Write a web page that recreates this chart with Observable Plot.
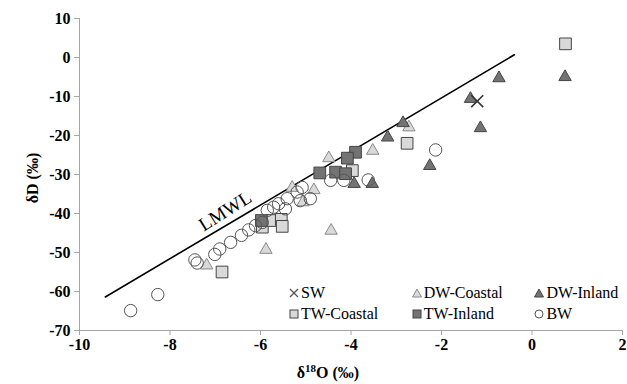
<!DOCTYPE html>
<html><head><meta charset="utf-8">
<script src="https://cdn.jsdelivr.net/npm/d3@7"></script>
<script src="https://cdn.jsdelivr.net/npm/@observablehq/plot@0.6"></script>
<style>
body{margin:0;background:#fff}
#wrap{position:relative;width:627px;height:384px;overflow:hidden}
.leg{position:absolute;display:flex;align-items:center;font-family:'Liberation Serif','Times New Roman',serif;font-size:16px;color:#000;white-space:nowrap;line-height:1}
.leg svg{margin-right:2px}
</style>
</head><body><div id="wrap"></div>
<script>
// ---- data ----
const xTicks = [-10, -8, -6, -4, -2, 0, 2];
const yTicks = [-70, -60, -50, -40, -30, -20, -10, 0, 10];

const swX = [-1.21];
const swY = [-11.2];

const dwcX = [-7.19, -5.88, -4.44, -5.30, -4.82, -5.06, -4.49, -3.52, -2.72];
const dwcY = [-53.3, -49.3, -44.4, -33.4, -34.0, -37.1, -25.8, -23.9, -17.9];

const dwiX = [0.73, -0.73, -1.36, -1.14, -2.85, -3.19, -2.26, -3.93, -3.53];
const dwiY = [-5.0, -5.3, -10.6, -18.1, -16.8, -20.5, -27.8, -32.4, -32.4];

const twcX = [0.74, -2.76, -6.85, -5.96, -5.74, -5.54, -5.52, -3.97];
const twcY = [3.5, -22.0, -55.0, -43.5, -41.8, -41.5, -43.3, -29.0];

const twiX = [-5.98, -4.69, -4.34, -4.12, -3.90, -4.08];
const twiY = [-41.8, -29.6, -29.4, -29.8, -24.3, -25.8];

const bwX = [-8.87, -8.27, -7.45, -7.40, -7.01, -6.90, -6.66, -6.42, -6.26, -6.11, -5.96, -5.85, -5.71, -5.60, -5.45, -5.41, -5.19, -5.08, -5.12, -4.90, -4.45, -4.16, -3.62, -2.13];
const bwY = [-64.9, -60.8, -51.9, -52.7, -50.5, -49.1, -47.4, -45.6, -44.2, -43.1, -42.3, -39.2, -38.4, -37.5, -38.8, -36.2, -34.5, -33.3, -36.7, -36.2, -31.5, -31.5, -31.4, -23.7];

const lmwlX = [-9.43, -0.39];
const lmwlY = [-61.4, 0.7];
const lmwlLabel = ["LMWL"];
const lmwlLabelX = [-6.78];
const lmwlLabelY = [-39.4];

const seriesNames = ["SW", "DW-Coastal", "DW-Inland", "TW-Coastal", "TW-Inland", "BW"];

// ---- build tables ----
const pts = (xs, ys) => xs.map((x, i) => ({x, y: ys[i]}));
const sw = pts(swX, swY), dwc = pts(dwcX, dwcY), dwi = pts(dwiX, dwiY),
      twc = pts(twcX, twcY), twi = pts(twiX, twiY), bw = pts(bwX, bwY);
const lmwl = pts(lmwlX, lmwlY);
const lab = lmwlLabel.map((t, i) => ({t, x: lmwlLabelX[i], y: lmwlLabelY[i]}));

const LIGHT = "#d9d9d9", LIGHT_S = "#8a8a8a", DARK = "#737373", DARK_S = "#454545";
const AXIS = "#a6a6a6";
const serif = "'Liberation Serif','Times New Roman',serif";

const chart = Plot.plot({
  width: 627, height: 384,
  marginLeft: 79, marginRight: 5, marginTop: 18, marginBottom: 54,
  x: {domain: [-10, 2]},
  y: {domain: [-70, 10]},
  style: {fontFamily: serif, fontSize: "16px", fontWeight: "bold", background: "white", color: "black", overflow: "visible"},
  marks: [
    Plot.ruleY([-70], {stroke: AXIS}),
    Plot.ruleX([-10], {stroke: AXIS}),
    Plot.axisX({ticks: xTicks, tickSize: 5, tickPadding: 3, tickFormat: d => String(d), label: null}),
    Plot.axisY({ticks: yTicks, tickSize: 5, tickPadding: 4, tickFormat: d => String(d), label: null}),
    Plot.line(lmwl, {x: "x", y: "y", stroke: "black", strokeWidth: 1.6}),
    Plot.text(lab, {x: "x", y: "y", text: "t", rotate: -32, fontSize: 19, fontWeight: "normal", fill: "black"}),
    Plot.dot(dwc, {x: "x", y: "y", symbol: "triangle", r: 4.6, fill: LIGHT, stroke: LIGHT_S, strokeWidth: 1}),
    Plot.dot(dwi, {x: "x", y: "y", symbol: "triangle", r: 4.6, fill: DARK, stroke: DARK_S, strokeWidth: 1}),
    Plot.dot(twc, {x: "x", y: "y", symbol: "square", r: 6.6, fill: LIGHT, stroke: DARK_S, strokeWidth: 1}),
    Plot.dot(twi, {x: "x", y: "y", symbol: "square", r: 6.6, fill: DARK, stroke: DARK_S, strokeWidth: 1}),
    Plot.dot(bw, {x: "x", y: "y", symbol: "circle", r: 6.2, fill: "none", stroke: "#555", strokeWidth: 1}),
    Plot.dot(sw, {x: "x", y: "y", symbol: "times", r: 5.5, stroke: "#333", strokeWidth: 1.6})
  ]
});

const svg = d3.select(chart);
svg.selectAll('g[aria-label$="axis tick"]').attr("stroke", AXIS);

// axis titles
svg.append("text")
  .attr("transform", "translate(32,178) rotate(-90)")
  .attr("text-anchor", "middle").attr("dy", "0.35em")
  .attr("font-family", serif).attr("font-size", 16).attr("font-weight", "bold")
  .text("δD (‰)");
const xt = svg.append("text")
  .attr("x", 328).attr("y", 378)
  .attr("text-anchor", "middle")
  .attr("font-family", serif).attr("font-size", 16).attr("font-weight", "bold");
xt.append("tspan").text("δ");
xt.append("tspan").attr("font-size", 11).attr("dy", -6).text("18");
xt.append("tspan").attr("dy", 6).text("O (‰)");

const wrap = document.getElementById("wrap");
wrap.appendChild(chart);

// legend (HTML overlay inside plot area)
const legSym = {
  "SW": '<line x1="1" y1="1" x2="9" y2="9" stroke="#555" stroke-width="1.2"/><line x1="9" y1="1" x2="1" y2="9" stroke="#555" stroke-width="1.2"/>',
  "DW-Coastal": `<polygon points="5,1 9.5,9 0.5,9" fill="${LIGHT}" stroke="${LIGHT_S}"/>`,
  "DW-Inland": `<polygon points="5,1 9.5,9 0.5,9" fill="${DARK}" stroke="${DARK_S}"/>`,
  "TW-Coastal": `<rect x="1" y="1" width="8" height="8" fill="${LIGHT}" stroke="${DARK_S}"/>`,
  "TW-Inland": `<rect x="1" y="1" width="8" height="8" fill="${DARK}" stroke="${DARK_S}"/>`,
  "BW": '<circle cx="5" cy="5" r="4" fill="none" stroke="#555"/>'
};
seriesNames.forEach((name, i) => {
  const col = i % 3, row = Math.floor(i / 3);
  const d = document.createElement("div");
  d.className = "leg";
  d.style.left = (289 + col * 122.7) + "px";
  d.style.top = (285 + row * 21) + "px";
  d.innerHTML = `<svg width="10" height="10" viewBox="0 0 10 10">${legSym[name]}</svg><span>${name}</span>`;
  wrap.appendChild(d);
});
</script>
</body></html>
